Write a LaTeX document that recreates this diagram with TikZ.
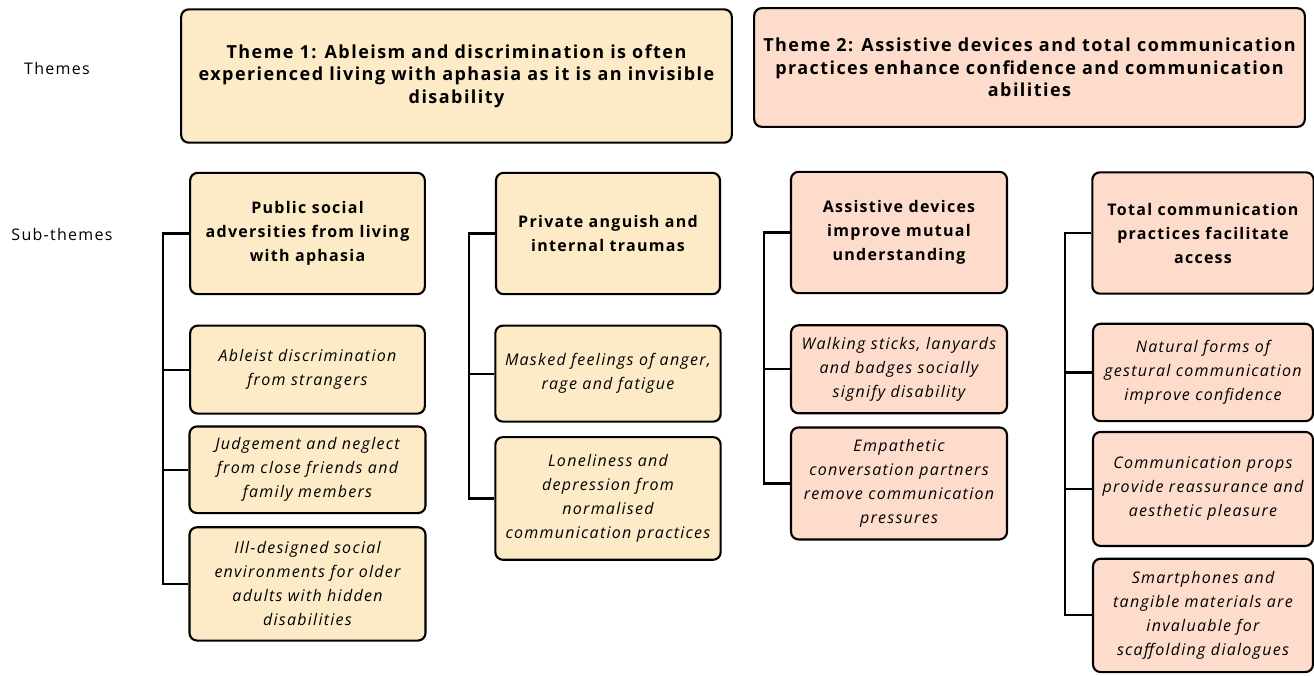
\documentclass[tikz,border=0pt]{standalone}
\usepackage{fontspec}
\setmainfont[LetterSpace=8]{Open Sans}
\usetikzlibrary{positioning}
\definecolor{themeone}{HTML}{FDEBC8}
\definecolor{themetwo}{HTML}{FDDCCB}

\begin{document}
\begin{tikzpicture}[
    x=0.75pt, y=-0.75pt,
    font=\fontsize{12}{17}\selectfont,
    box/.style={
        rectangle,
        rounded corners=2mm,
        draw=black,
        line width=1.6pt,
        align=center,
        inner sep=2pt
    },
    theme/.style={
        box,
        minimum width=413pt,
        font=\fontsize{13.5}{17}\selectfont\bfseries
    },
    head/.style={
        box,
        minimum height=91pt,
        font=\fontsize{12}{18}\selectfont\bfseries
    },
    sub/.style={
        box,
        font=\fontsize{12}{18}\selectfont\itshape
    },
    link/.style={
        line width=1.6pt,
        black
    },
    rowlabel/.style={
        font=\fontsize{12}{14}\selectfont
    }
]
\useasboundingbox (0,0) rectangle (1314,675);

% row labels
\node[rowlabel] (lthemes) at (57,68) {Themes};
\node[rowlabel] (lsub) at (62,234) {Sub-themes};

% themes
\node[theme, fill=themeone, minimum height=100pt] (theme1) at (456.5,76)
    {Theme 1: Ableism and discrimination is often\\experienced living with aphasia as it is an invisible\\disability};
\node[theme, fill=themetwo, minimum height=89pt] (theme2) at (1029.5,67.5)
    {Theme 2: Assistive devices and total communication\\practices enhance confidence and communication\\abilities};

% theme 1, first sub-theme
\node[head, fill=themeone, minimum width=176pt] (pub) at (307.5,233.5)
    {Public social\\adversities from living\\with aphasia};
\node[sub, fill=themeone, minimum width=176pt, minimum height=66pt, below=22pt of pub] (abl)
    {Ableist discrimination\\from strangers};
\node[sub, fill=themeone, minimum width=177pt, minimum height=65pt, below=8pt of abl] (jud)
    {Judgement and neglect\\from close friends and\\family members};
\node[sub, fill=themeone, minimum width=177pt, minimum height=85pt, below=9pt of jud] (ill)
    {Ill-designed social\\environments for older\\adults with hidden\\disabilities};

% theme 1, second sub-theme
\node[head, fill=themeone, minimum width=168pt] (priv) at (608,233.5)
    {Private anguish and\\internal traumas};
\node[sub, fill=themeone, minimum width=169pt, minimum height=72pt, below=22pt of priv] (mask)
    {Masked feelings of anger,\\rage and fatigue};
\node[sub, fill=themeone, minimum width=169pt, minimum height=92pt, below=10pt of mask] (lone)
    {Loneliness and\\depression from\\normalised\\communication practices};

% theme 2, first sub-theme
\node[head, fill=themetwo, minimum width=162pt] (assist) at (899,232.5)
    {Assistive devices\\improve mutual\\understanding};
\node[sub, fill=themetwo, minimum width=162pt, minimum height=66pt, below=22.5pt of assist] (walk)
    {Walking sticks, lanyards\\and badges socially\\signify disability};
\node[sub, fill=themetwo, minimum width=162pt, minimum height=84pt, below=9pt of walk] (emp)
    {Empathetic\\conversation partners\\remove communication\\pressures};

% theme 2, second sub-theme
\node[head, fill=themetwo, minimum width=166pt] (total) at (1203,233)
    {Total communication\\practices facilitate\\access};
\node[sub, fill=themetwo, minimum width=165pt, minimum height=73pt, below=21pt of total] (nat)
    {Natural forms of\\gestural communication\\improve confidence};
\node[sub, fill=themetwo, minimum width=165pt, minimum height=85.5pt, below=6.5pt of nat] (props)
    {Communication props\\provide reassurance and\\aesthetic pleasure};
\node[sub, fill=themetwo, minimum width=165pt, minimum height=85pt, below=8pt of props] (smart)
    {Smartphones and\\tangible materials are\\invaluable for\\scaffolding dialogues};

% connectors
\foreach \hd/\kid in {pub/abl, pub/jud, pub/ill,
                      priv/mask, priv/lone,
                      assist/walk, assist/emp,
                      total/nat, total/props, total/smart}
    \draw[link] (\hd.west) -- ++(-26,0) |- (\kid.west);

\end{tikzpicture}
\end{document}
